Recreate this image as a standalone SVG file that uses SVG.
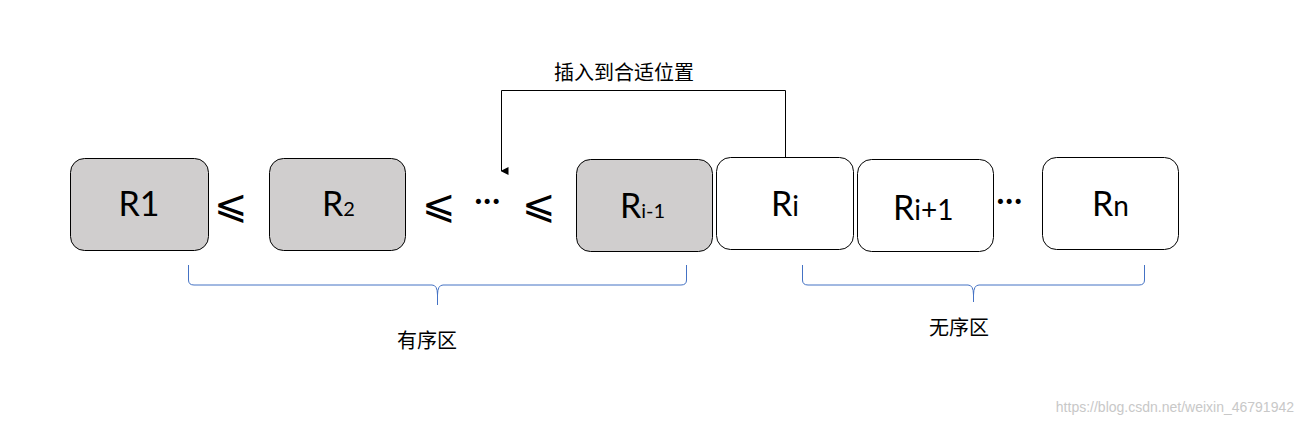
<svg xmlns="http://www.w3.org/2000/svg" width="1305" height="424" viewBox="0 0 1305 424">
<style>
.g{fill:#d0cece;stroke:#000;stroke-width:1}
.w{fill:#fff;stroke:#000;stroke-width:1}
.t{font-family:Lato,"Liberation Sans",sans-serif;font-size:34px;fill:#000}
.s{font-size:20px}
.c{font-family:"Noto Sans CJK SC",sans-serif;font-size:20px;fill:#000}
.b{fill:none;stroke:#4472c4;stroke-width:1}
</style>
<defs><marker id="a" markerWidth="8" markerHeight="8" refX="4" refY="7" orient="auto-start-reverse" markerUnits="userSpaceOnUse"><path d="M0,0 L8,0 L4,8 Z" fill="#000"/></marker></defs>
<rect width="1305" height="424" fill="#fff"/>
<g id="n1"><rect class="g" x="70.500" y="158.500" width="138" height="92" rx="14"/><text class="t" x="139" y="216" text-anchor="middle">R1</text></g>
<g id="n2"><rect class="g" x="269.500" y="158.500" width="136" height="92" rx="14"/><text class="t" x="322" y="216">R<tspan class="s">2</tspan></text></g>
<g id="n3"><rect class="g" x="576.500" y="159.500" width="136" height="92" rx="14"/><text class="t" x="620" y="218">R<tspan class="s" font-size="24">i-1</tspan></text></g>
<g id="n4"><rect class="w" x="716.500" y="157.500" width="137" height="92" rx="14"/><text class="t" x="771" y="216">R<tspan font-size="28">i</tspan></text></g>
<g id="n5"><rect class="w" x="857.500" y="159.500" width="136" height="92" rx="14"/><text class="t" x="893" y="220">R<tspan font-size="28">i+1</tspan></text></g>
<g id="n6"><rect class="w" x="1042.500" y="157.500" width="136" height="92" rx="14"/><text class="t" x="1092" y="216">R<tspan font-size="28">n</tspan></text></g>
<g id="ops" class="t">
<text x="214" y="218" font-size="40">⩽</text>
<text x="422" y="218" font-size="40">⩽</text>
<text x="474" y="212">···</text>
<text x="522" y="218" font-size="40">⩽</text>
<text x="996" y="212">···</text>
</g>
<g id="connectors">
<path d="M785.500,157 V90.500 H501.500 V171" fill="none" stroke="#000" stroke-width="1" marker-end="url(#a)"/>
</g>
<g id="brackets">
<path class="b" d="M188.500,265 V280 Q188.500,285 194,285 H432 Q437.500,285 437.500,295 V305 M437.500,295 Q437.500,285 443,285 H681 Q686.500,285 686.500,280 V265"/>
<path class="b" d="M802.500,265 V280 Q802.500,285 808,285 H968 Q973.500,285 973.500,295 V302 M973.500,295 Q973.500,285 979,285 H1139 Q1144.500,285 1144.500,280 V265"/>
</g>
<text class="c" x="554" y="80">插入到合适位置</text>
<text class="c" x="397" y="348">有序区</text>
<text class="c" x="929" y="335">无序区</text>
<text x="1294" y="412" text-anchor="end" font-family="'Liberation Sans',sans-serif" font-size="14" fill="#c8c8c8">https://blog.csdn.net/weixin_46791942</text>
</svg>
